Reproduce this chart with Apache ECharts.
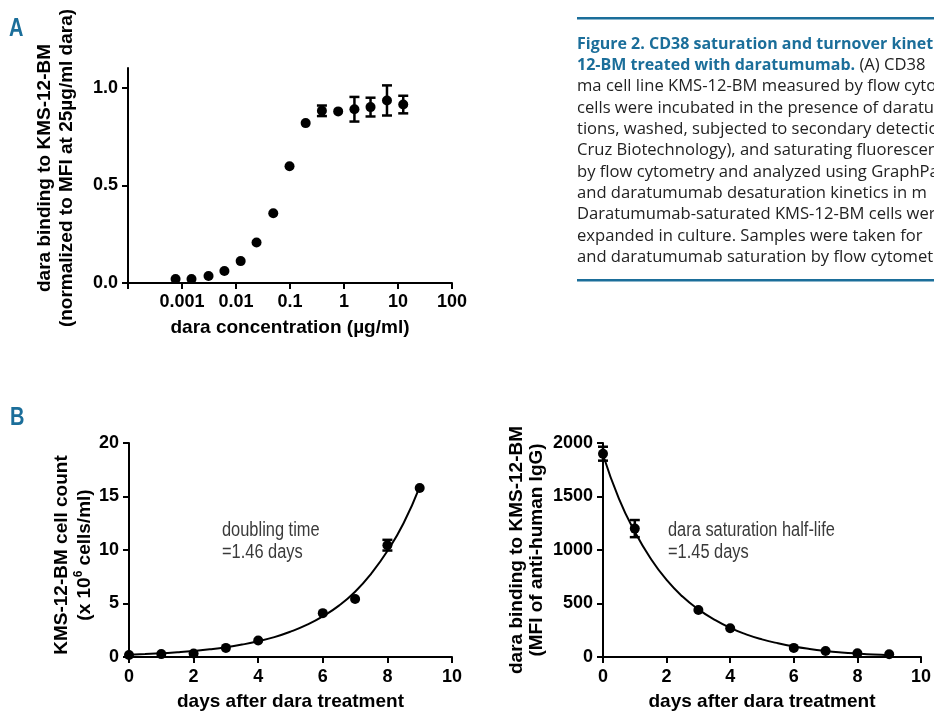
<!DOCTYPE html>
<html>
<head>
<meta charset="utf-8">
<script src="https://cdn.jsdelivr.net/npm/echarts@6/dist/echarts.min.js"></script>
<style>
html, body { margin: 0; padding: 0; background: #fff; }
#Map { width: 934px; height: 712px; }
</style>
</head>
<body>
<div id="Map"></div>
<script>
// panel A: dose response
var concA = [0.00076, 0.0015, 0.0031, 0.0061, 0.0122, 0.024, 0.049, 0.098, 0.195, 0.39, 0.78, 1.56, 3.1, 6.25, 12.5];
var bindA = [0.02, 0.02, 0.036, 0.061, 0.112, 0.207, 0.357, 0.597, 0.818, 0.881, 0.878, 0.889, 0.9, 0.934, 0.913];
var errA = [0, 0, 0, 0, 0, 0, 0, 0, 0, 0.027, 0, 0.063, 0.048, 0.077, 0.045];
var ticksA = [0.001, 0.01, 0.1, 1, 10, 100];

// panel B left: growth
var daysGrowth = [0, 1, 2, 3, 4, 6, 7, 8, 9];
var countGrowth = [0.18, 0.27, 0.33, 0.85, 1.55, 4.1, 5.42, 10.45, 15.8];
var errGrowth = [0, 0, 0, 0, 0, 0, 0, 0.5, 0];
var fitDays = [0, 0.5, 1, 1.5, 2, 2.5, 3, 3.5, 4, 4.5, 5, 5.5, 6, 6.5, 7, 7.5, 8, 8.5, 9];
var fitGrowth = [0.22, 0.28, 0.35, 0.45, 0.57, 0.72, 0.91, 1.16, 1.47, 1.86, 2.37, 3.0, 3.8, 4.8, 6.1, 7.8, 9.9, 12.5, 15.9];

// panel B right: desaturation
var daysDecay = [0, 1, 3, 4, 6, 7, 8, 9];
var mfiDecay = [1900, 1200, 440, 268, 85, 56, 34, 25];
var errDecay = [65, 80, 0, 0, 0, 0, 0, 0];
var fitDecay = [1890, 1480, 1170, 920, 720, 565, 445, 350, 272, 212, 165, 128, 98, 75, 57, 43, 32, 23, 17];

var captionLines = [
  'ma cell line KMS-12-BM measured by flow cytometry',
  'cells were incubated in the presence of daratumumab',
  'tions, washed, subjected to secondary detection',
  'Cruz Biotechnology), and saturating fluorescence',
  'by flow cytometry and analyzed using GraphPad',
  'and daratumumab desaturation kinetics in m',
  'Daratumumab-saturated KMS-12-BM cells were',
  'expanded in culture. Samples were taken for',
  'and daratumumab saturation by flow cytometry'
];

var BLUE = '#1b6e9a';
var AX = 'Liberation Sans';
var CAP = 'Open Sans';

function pairs(xs, ys) {
  var out = [];
  for (var i = 0; i < xs.length; i++) out.push([xs[i], ys[i]]);
  return out;
}
function errPairs(xs, ys, es) {
  var out = [];
  for (var i = 0; i < xs.length; i++) {
    if (es[i] > 0) out.push([xs[i], ys[i] - es[i], ys[i] + es[i]]);
  }
  return out;
}
function renderErr(params, api) {
  var lo = api.coord([api.value(0), api.value(1)]);
  var hi = api.coord([api.value(0), api.value(2)]);
  var w = 5;
  var st = { stroke: '#000', lineWidth: 2.5 };
  return {
    type: 'group',
    children: [
      { type: 'line', shape: { x1: lo[0], y1: lo[1], x2: hi[0], y2: hi[1] }, style: st },
      { type: 'line', shape: { x1: lo[0] - w, y1: lo[1], x2: lo[0] + w, y2: lo[1] }, style: st },
      { type: 'line', shape: { x1: hi[0] - w, y1: hi[1], x2: hi[0] + w, y2: hi[1] }, style: st }
    ]
  };
}

var axisLine = { lineStyle: { color: '#000', width: 2 } };
var axisTick = { length: 6, lineStyle: { color: '#000', width: 2 } };
var label = { color: '#000', fontSize: 18, fontWeight: 'bold', fontFamily: AX };
var nameStyle = { color: '#000', fontSize: 19, fontWeight: 'bold', fontFamily: AX };
var dot = { color: '#000', opacity: 1 };

// graphic: letters, caption, y titles, annotations
// narrow faces are not installed, so the condensed texts are squeezed with scaleX
var graphics = [
  { type: 'text', x: 9, y: 29, scaleX: 0.8, style: { text: 'A', fill: BLUE, fontSize: 25, fontWeight: 'bold', fontFamily: AX, verticalAlign: 'middle' } },
  { type: 'text', x: 10, y: 418, scaleX: 0.8, style: { text: 'B', fill: BLUE, fontSize: 25, fontWeight: 'bold', fontFamily: AX, verticalAlign: 'middle' } },
  { type: 'rect', shape: { x: 577, y: 17, width: 360, height: 2.5 }, style: { fill: BLUE } },
  { type: 'rect', shape: { x: 577, y: 279, width: 360, height: 2.5 }, style: { fill: BLUE } },
  { type: 'text', x: 577, y: 44, style: { text: 'Figure 2. CD38 saturation and turnover kinetics', fill: BLUE, fontSize: 16, fontWeight: 'bold', fontFamily: CAP, verticalAlign: 'middle' } },
  { type: 'text', x: 577, y: 65.3, style: {
      text: '{b|12-BM treated with daratumumab.}{n| (A) CD38}',
      verticalAlign: 'middle',
      rich: {
        b: { fill: BLUE, fontSize: 16, fontWeight: 'bold', fontFamily: CAP },
        n: { fill: '#222', fontSize: 16.6, fontFamily: CAP }
      }
  } },
  { type: 'text', x: 56, y: 168, rotation: Math.PI / 2, style: {
      text: 'dara binding to KMS-12-BM\n(normalized to MFI at 25µg/ml dara)',
      fill: '#000', fontSize: 19, fontWeight: 'bold', fontFamily: AX, lineHeight: 22, align: 'center', verticalAlign: 'middle' } },
  { type: 'text', x: 73, y: 555, rotation: Math.PI / 2, style: {
      text: '{a|KMS-12-BM cell count}\n{a|(x 10}{s|6}{a| cells/ml)}',
      align: 'center', verticalAlign: 'middle',
      rich: {
        a: { fill: '#000', fontSize: 19, fontWeight: 'bold', fontFamily: AX, lineHeight: 23 },
        s: { fill: '#000', fontSize: 12, fontWeight: 'bold', fontFamily: AX, lineHeight: 23, verticalAlign: 'top', padding: [0, 0, 8, 0] }
      }
  } },
  { type: 'text', x: 527, y: 550, rotation: Math.PI / 2, style: {
      text: 'dara binding to KMS-12-BM\n(MFI of anti-human IgG)',
      fill: '#000', fontSize: 19, fontWeight: 'bold', fontFamily: AX, lineHeight: 20, align: 'center', verticalAlign: 'middle' } },
  { type: 'text', x: 222, y: 541, scaleX: 0.82, style: {
      text: 'doubling time\n=1.46 days', fill: '#3a3a3a', fontSize: 20, fontFamily: AX, lineHeight: 22, verticalAlign: 'middle' } },
  { type: 'text', x: 668, y: 541, scaleX: 0.82, style: {
      text: 'dara saturation half-life\n=1.45 days', fill: '#3a3a3a', fontSize: 20, fontFamily: AX, lineHeight: 22, verticalAlign: 'middle' } }
];
for (var i = 0; i < captionLines.length; i++) {
  graphics.push({ type: 'text', x: 577, y: 86.6 + i * 21.33, style: {
    text: captionLines[i], fill: '#222', fontSize: 16.6, fontFamily: CAP, verticalAlign: 'middle' } });
}

var myChart = echarts.init(document.getElementById('Map'));
var option = {
    animation: false,
    backgroundColor: '#fff',
    grid: [
        { left: 128, top: 68, width: 324, height: 215 },
        { left: 129, top: 443, width: 323, height: 214 },
        { left: 603, top: 443, width: 323, height: 214 }
    ],
    xAxis: [
        {
            gridIndex: 0, type: 'log', logBase: 10, min: 0.0001, max: 100,
            axisLine: axisLine, axisTick: axisTick, splitLine: { show: false }, minorTick: { show: false },
            axisLabel: Object.assign({ margin: 10, formatter: function (v) {
                var r = Number(v.toPrecision(3));
                return ticksA.indexOf(r) >= 0 ? String(r) : '';
            } }, label),
            name: 'dara concentration (µg/ml)', nameLocation: 'middle', nameGap: 35, nameTextStyle: nameStyle
        },
        {
            gridIndex: 1, type: 'value', min: 0, max: 10, interval: 2,
            axisLine: axisLine, axisTick: axisTick, splitLine: { show: false },
            axisLabel: Object.assign({ margin: 11 }, label),
            name: 'days after dara treatment', nameLocation: 'middle', nameGap: 35, nameTextStyle: nameStyle
        },
        {
            gridIndex: 2, type: 'value', min: 0, max: 10, interval: 2,
            axisLine: axisLine, axisTick: axisTick, splitLine: { show: false },
            axisLabel: Object.assign({ margin: 11 }, label),
            name: 'days after dara treatment', nameLocation: 'middle', nameGap: 35, nameTextStyle: nameStyle
        }
    ],
    yAxis: [
        {
            gridIndex: 0, type: 'value', min: 0, max: 1.1,
            axisLine: Object.assign({ show: true }, axisLine),
            axisTick: Object.assign({ customValues: [0, 0.5, 1] }, axisTick),
            splitLine: { show: false },
            axisLabel: Object.assign({ margin: 10, customValues: [0, 0.5, 1], formatter: function (v) { return v.toFixed(1); } }, label)
        },
        {
            gridIndex: 1, type: 'value', min: 0, max: 20, interval: 5,
            axisLine: Object.assign({ show: true }, axisLine), axisTick: axisTick, splitLine: { show: false },
            axisLabel: Object.assign({ margin: 10 }, label)
        },
        {
            gridIndex: 2, type: 'value', min: 0, max: 2000, interval: 500,
            axisLine: Object.assign({ show: true }, axisLine), axisTick: axisTick, splitLine: { show: false },
            axisLabel: Object.assign({ margin: 10, formatter: function (v) { return String(v); } }, label)
        }
    ],
    graphic: graphics,
    series: [
        { type: 'custom', xAxisIndex: 0, yAxisIndex: 0, renderItem: renderErr, data: errPairs(concA, bindA, errA), z: 3 },
        { type: 'scatter', xAxisIndex: 0, yAxisIndex: 0, symbolSize: 10, itemStyle: dot, data: pairs(concA, bindA), z: 4 },

        { type: 'line', xAxisIndex: 1, yAxisIndex: 1, smooth: true, showSymbol: false, lineStyle: { color: '#000', width: 2 }, data: pairs(fitDays, fitGrowth) },
        { type: 'custom', xAxisIndex: 1, yAxisIndex: 1, renderItem: renderErr, data: errPairs(daysGrowth, countGrowth, errGrowth), z: 3 },
        { type: 'scatter', xAxisIndex: 1, yAxisIndex: 1, symbolSize: 10, itemStyle: dot, data: pairs(daysGrowth, countGrowth), z: 4 },

        { type: 'line', xAxisIndex: 2, yAxisIndex: 2, smooth: true, showSymbol: false, lineStyle: { color: '#000', width: 2 }, data: pairs(fitDays, fitDecay) },
        { type: 'custom', xAxisIndex: 2, yAxisIndex: 2, renderItem: renderErr, data: errPairs(daysDecay, mfiDecay, errDecay), z: 3 },
        { type: 'scatter', xAxisIndex: 2, yAxisIndex: 2, symbolSize: 10, itemStyle: dot, data: pairs(daysDecay, mfiDecay), z: 4 }
    ]
};
myChart.setOption(option);
</script>
</body>
</html>
